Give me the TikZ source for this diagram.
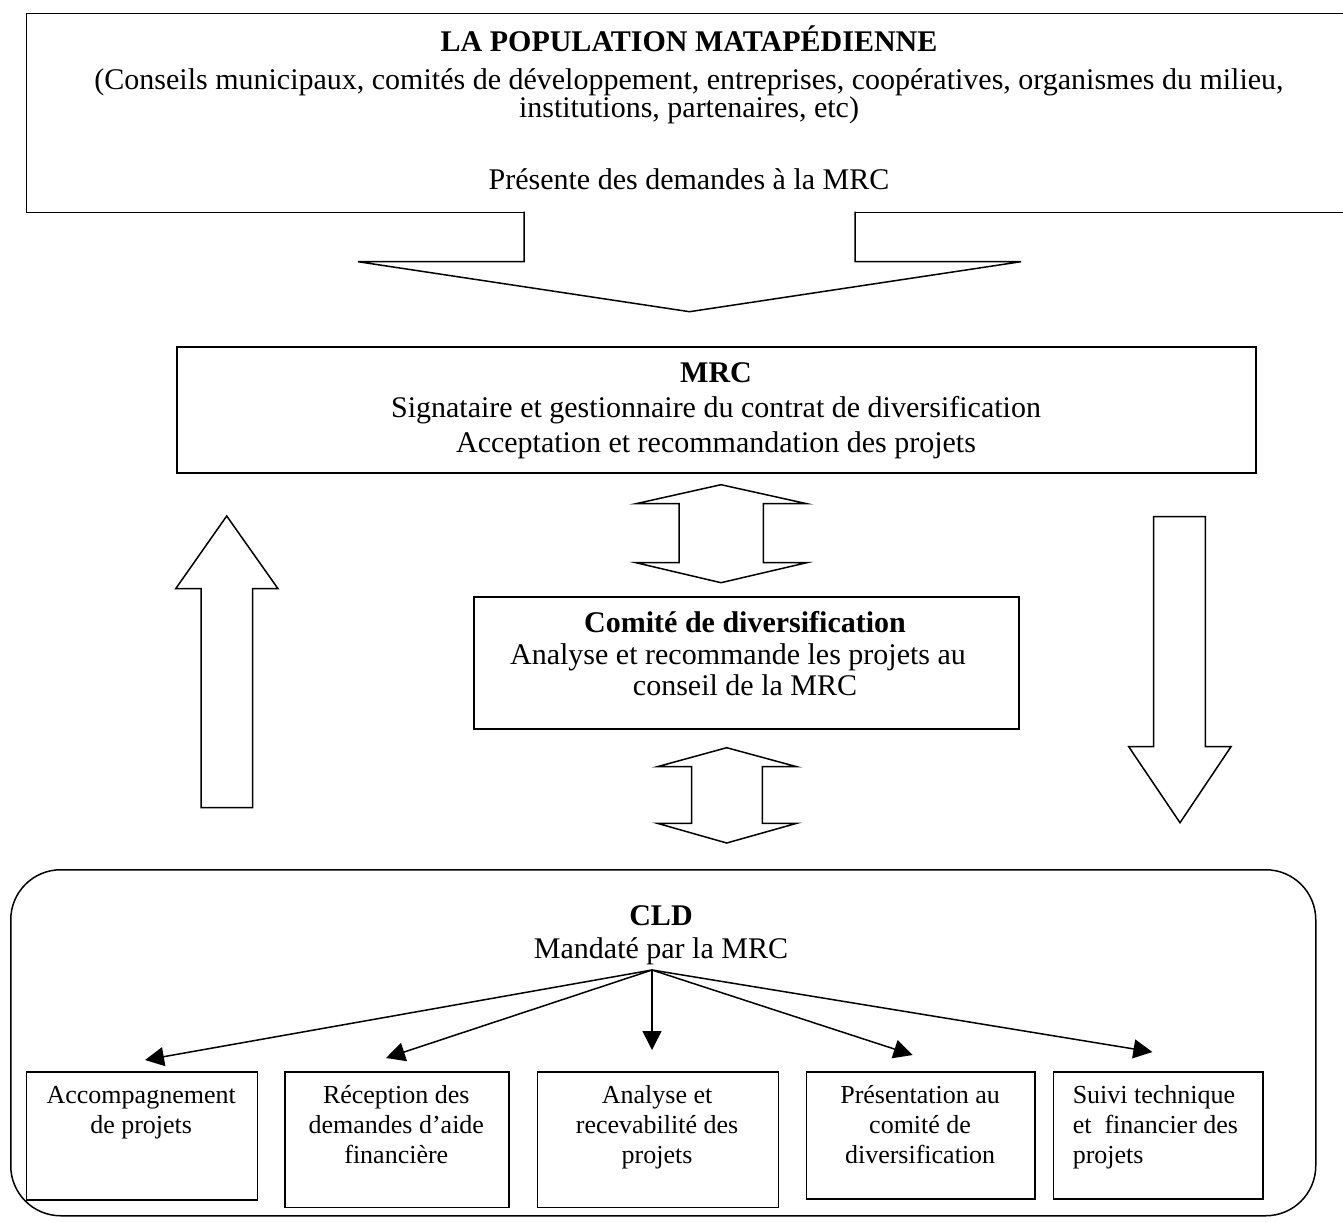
\documentclass[tikz,border=0pt]{standalone}
\usepackage{fontspec}
\setmainfont{Liberation Serif}
\usetikzlibrary{arrows.meta,calc}
\begin{document}
\begin{tikzpicture}[x=1pt,y=-1pt,line width=1.5pt,
  box/.style={draw,line width=1.5pt,inner sep=0pt,anchor=north west},
  bigtxt/.style={font=\fontsize{30}{34.5}\selectfont,inner sep=0pt,anchor=base},
  smalltxt/.style={font=\fontsize{26}{30}\selectfont,inner sep=0pt,align=center,anchor=north},
  blockarrow/.style={draw,line width=1.5pt,line join=miter,fill=white},
  fan/.style={draw,line width=1.5pt,-{Triangle[length=19pt,width=19pt]}}]
\useasboundingbox (0,0) rectangle (1343,1222);
\fill[white] (0,0) rectangle (1343,1222);

% top box
\node[box,minimum width=1326pt,minimum height=199pt] (pop) at (25.7,12.7) {};
\node[bigtxt] (pop1) at (689,52) {\bfseries LA POPULATION MATAPÉDIENNE};
\node[bigtxt] (pop2) at (689,90) {(Conseils municipaux, comités de développement, entreprises, coopératives, organismes du milieu,};
\node[bigtxt] (pop3) at (689,118) {institutions, partenaires, etc)};
\node[bigtxt] (pop4) at (689,190) {Présente des demandes à la MRC};

% big down arrow
\draw[blockarrow] (524,211.7) -- (524,261.7) -- (358,261.7) -- (689.5,311.7) -- (1021,261.7) -- (855,261.7) -- (855,211.7);

% MRC box
\node[box,minimum width=1079pt,minimum height=126pt] (mrc) at (176,346) {};
\node[bigtxt] (mrc1) at (716,382) {\bfseries MRC};
\node[bigtxt] (mrc2) at (716,417) {Signataire et gestionnaire du contrat de diversification};
\node[bigtxt] (mrc3) at (716,452) {Acceptation et recommandation des projets};

% double arrow 1
\draw[blockarrow] (721,484.7) -- (806.7,503.7) -- (763.3,503.7) -- (763.3,562.7) -- (806.7,562.7) -- (721,582.7) -- (636,562.7) -- (679,562.7) -- (679,503.7) -- (636,503.7) -- cycle;

% comite box
\node[box,minimum width=545pt,minimum height=132pt] (com) at (473,596) {};
\node[bigtxt] (com1) at (745,632) {\bfseries Comité de diversification};
\node[bigtxt] (com2) at (738,664) {Analyse et recommande les projets au};
\node[bigtxt] (com3) at (745,695) {conseil de la MRC};

% double arrow 2
\draw[blockarrow] (726.7,747.7) -- (796.7,766.7) -- (762.3,766.7) -- (762.3,823.3) -- (796.7,823.3) -- (726.7,843) -- (657.3,823.3) -- (691.7,823.3) -- (691.7,766.7) -- (657.3,766.7) -- cycle;

% left up arrow
\draw[blockarrow] (201,807.7) -- (201,588.7) -- (175.7,588.7) -- (226.7,516) -- (278,588.7) -- (252.7,588.7) -- (252.7,807.7) -- cycle;
% right down arrow
\draw[blockarrow] (1153.7,516.7) -- (1205.3,516.7) -- (1205.3,746.7) -- (1231,746.7) -- (1180,822.7) -- (1128.7,746.7) -- (1153.7,746.7) -- cycle;

% CLD
\node[box,rounded corners=50pt,minimum width=1305pt,minimum height=346pt] (cld) at (10,869) {};
\node[bigtxt] (cld1) at (661,925) {\bfseries CLD};
\node[bigtxt] (cld2) at (661,958) {Mandaté par la MRC};
\coordinate (src) at (652,970);

% bottom boxes
\node[box,minimum width=231pt,minimum height=128pt] (b1) at (25.7,1071) {};
\node[box,minimum width=224pt,minimum height=135.7pt] (b2) at (284.3,1071) {};
\node[box,minimum width=241.2pt,minimum height=135.7pt] (b3) at (536.5,1071) {};
\node[box,minimum width=228.6pt,minimum height=127pt] (b4) at (805.8,1071) {};
\node[box,minimum width=209.7pt,minimum height=127pt] (b5) at (1052.6,1071) {};

\node[smalltxt] (t1) at (141.2,1079) {\rule{0pt}{24pt}Accompagnement\\de projets};
\node[smalltxt] (t2) at (396.3,1079) {\rule{0pt}{24pt}Réception des\\demandes d’aide\\financière};
\node[smalltxt] (t3) at (657.1,1079) {\rule{0pt}{24pt}Analyse et\\recevabilité des\\projets};
\node[smalltxt] (t4) at (920.1,1079) {\rule{0pt}{24pt}Présentation au\\comité de\\diversification};
\node[smalltxt,align=left,anchor=north west] (t5) at (1072,1079) {\rule{0pt}{24pt}Suivi technique\\et\ \ financier des\\projets};

\coordinate (p1) at (145,1060);
\coordinate (p2) at (386,1058);
\coordinate (p3) at (652,1050);
\coordinate (p4) at (912.7,1055);
\coordinate (p5) at (1152.4,1052);
\foreach \k in {1,...,5} {\draw[fan] (src) -- (p\k);}
\end{tikzpicture}
\end{document}
